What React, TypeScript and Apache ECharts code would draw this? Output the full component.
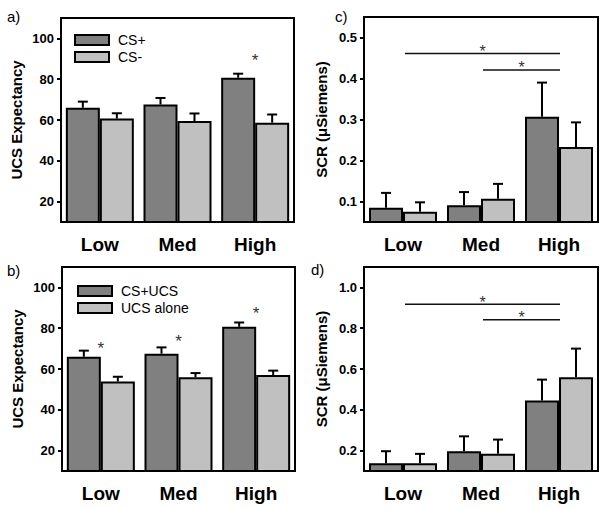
import React, { useEffect, useRef } from "react";
import * as echarts from "echarts";

// ---------- data ----------
const categories = ["Low", "Med", "High"];

// panel a
const aNames = ["CS+", "CS-"];
const aDark = [66, 67.6, 80.7];
const aDarkSem = [3, 3.2, 2];
const aLight = [60.7, 59.5, 58.7];
const aLightSem = [2.6, 3.7, 4];
const aStars = [[2, 91]];

// panel b
const bNames = ["CS+UCS", "UCS alone"];
const bDark = [66, 67.5, 80.7];
const bDarkSem = [3, 3.1, 2.1];
const bLight = [53.9, 56, 57];
const bLightSem = [2.3, 2, 2.2];
const bStars = [[0, 72], [1, 75.3], [2, 89.2]];

// panel c
const cDark = [0.085, 0.091, 0.307];
const cDarkSem = [0.036, 0.032, 0.083];
const cLight = [0.075, 0.107, 0.233];
const cLightSem = [0.023, 0.036, 0.06];
const cSig = [[0, 2, 0.461], [1, 2, 0.421]];

// panel d
const dDark = [0.138, 0.197, 0.445];
const dDarkSem = [0.059, 0.073, 0.103];
const dLight = [0.138, 0.184, 0.56];
const dLightSem = [0.046, 0.07, 0.14];
const dSig = [[0, 2, 0.918], [1, 2, 0.841]];

// axes
const expTicks = [20, 40, 60, 80, 100];
const scrCTicks = [0.1, 0.2, 0.3, 0.4, 0.5];
const scrDTicks = [0.2, 0.4, 0.6, 0.8, 1.0];

const FONT = "Liberation Sans, Arial, sans-serif";
const DARK = "#808080";
const LIGHT = "#c0c0c0";

export default function App() {
  const ref = useRef<HTMLDivElement>(null);
  useEffect(() => {
    document.body.style.margin = "0";
    const chart = echarts.init(ref.current!, null, { renderer: "svg" });

    const grids = [
      { left: 61, top: 18, width: 233, height: 204 }, // a
      { left: 364, top: 17, width: 234, height: 205 }, // c
      { left: 62, top: 267, width: 233, height: 204 }, // b
      { left: 364, top: 267, width: 234, height: 204 }, // d
    ].map((g) => ({ ...g, show: true, borderColor: "#000", borderWidth: 2, backgroundColor: "transparent", z: 10 }));

    const xAxes = grids.map((_, i) => ({
      type: "category",
      gridIndex: i,
      data: categories,
      axisLine: { show: false },
      axisTick: { show: false },
      axisLabel: { fontFamily: FONT, fontWeight: "bold", fontSize: 19, color: "#000", margin: 13 },
    }));

    const yAxis = (i: number, min: number, max: number, ticks: number[], name: string, gap: number, dec: number) => ({
      type: "value",
      gridIndex: i,
      min,
      max,
      name,
      nameLocation: "middle",
      nameGap: gap,
      nameTextStyle: { fontFamily: FONT, fontWeight: "bold", fontSize: 15, color: "#000" },
      splitLine: { show: false },
      axisLine: { show: false },
      axisTick: { show: true, customValues: ticks, length: 4, lineStyle: { color: "#000", width: 2 } },
      axisLabel: {
        customValues: ticks,
        fontFamily: FONT,
        fontWeight: "bold",
        fontSize: 13,
        color: "#000",
        margin: 7,
        formatter: (v: number) => (dec ? v.toFixed(dec) : String(v)),
      },
    });

    const yAxes = [
      yAxis(0, 10, 110, expTicks, "UCS Expectancy", 37, 0),
      yAxis(1, 0.05, 0.55, scrCTicks, "SCR (μSiemens)", 35, 1),
      yAxis(2, 10, 110, expTicks, "UCS Expectancy", 37, 0),
      yAxis(3, 0.1, 1.1, scrDTicks, "SCR (μSiemens)", 35, 1),
    ];

    const barSeries = (name: string, idx: number, data: number[], color: string) => ({
      type: "bar",
      name,
      xAxisIndex: idx,
      yAxisIndex: idx,
      data,
      barWidth: 34,
      barGap: "0%",
      itemStyle: { color, borderColor: "#000", borderWidth: 2 },
    });

    const errSeries = (idx: number, mean: number[], sem: number[], offset: number) => ({
      type: "custom",
      xAxisIndex: idx,
      yAxisIndex: idx,
      silent: true,
      z: 5,
      data: mean.map((m, k) => [k, m, m + sem[k]]),
      renderItem: (params: any, api: any) => {
        const p0 = api.coord([api.value(0), api.value(1)]);
        const p1 = api.coord([api.value(0), api.value(2)]);
        const x = p0[0] + offset;
        const st = { stroke: "#000", lineWidth: 2 };
        return {
          type: "group",
          children: [
            { type: "line", shape: { x1: x, y1: p0[1], x2: x, y2: p1[1] }, style: st },
            { type: "line", shape: { x1: x - 5, y1: p1[1], x2: x + 5, y2: p1[1] }, style: st },
          ],
        };
      },
    });

    const starSeries = (idx: number, stars: number[][]) => ({
      type: "custom",
      xAxisIndex: idx,
      yAxisIndex: idx,
      silent: true,
      z: 6,
      data: stars,
      renderItem: (params: any, api: any) => {
        const p = api.coord([api.value(0), api.value(1)]);
        return {
          type: "text",
          style: { text: "*", x: p[0], y: p[1] + 4, align: "center", verticalAlign: "middle", fontSize: 17, fontFamily: FONT, fill: "#333" },
        };
      },
    });

    const sigSeries = (idx: number, sig: number[][]) => ({
      type: "custom",
      xAxisIndex: idx,
      yAxisIndex: idx,
      silent: true,
      z: 6,
      data: sig,
      renderItem: (params: any, api: any) => {
        const p0 = api.coord([api.value(0), api.value(2)]);
        const p1 = api.coord([api.value(1), api.value(2)]);
        const x0 = p0[0] + 2;
        const x1 = p1[0] + 1;
        return {
          type: "group",
          children: [
            { type: "line", shape: { x1: x0, y1: p0[1], x2: x1, y2: p1[1] }, style: { stroke: "#111", lineWidth: 1.5 } },
            {
              type: "text",
              style: { text: "*", x: (x0 + x1) / 2, y: p0[1] - 2, align: "center", verticalAlign: "middle", fontSize: 16, fontFamily: FONT, fill: "#333" },
            },
          ],
        };
      },
    });

    const series = [
      barSeries(aNames[0], 0, aDark, DARK),
      barSeries(aNames[1], 0, aLight, LIGHT),
      errSeries(0, aDark, aDarkSem, -17),
      errSeries(0, aLight, aLightSem, 17),
      starSeries(0, aStars),

      barSeries("c-dark", 1, cDark, DARK),
      barSeries("c-light", 1, cLight, LIGHT),
      errSeries(1, cDark, cDarkSem, -17),
      errSeries(1, cLight, cLightSem, 17),
      sigSeries(1, cSig),

      barSeries(bNames[0], 2, bDark, DARK),
      barSeries(bNames[1], 2, bLight, LIGHT),
      errSeries(2, bDark, bDarkSem, -17),
      errSeries(2, bLight, bLightSem, 17),
      starSeries(2, bStars),

      barSeries("d-dark", 3, dDark, DARK),
      barSeries("d-light", 3, dLight, LIGHT),
      errSeries(3, dDark, dDarkSem, -17),
      errSeries(3, dLight, dLightSem, 17),
      sigSeries(3, dSig),
    ];

    const legendBase = {
      orient: "vertical",
      icon: "rect",
      itemWidth: 34,
      itemHeight: 10,
      itemGap: 3,
      padding: 0,
      selectedMode: false,
      itemStyle: { borderColor: "#000", borderWidth: 2 },
      textStyle: { fontFamily: FONT, fontSize: 14, color: "#000", padding: [0, 0, 0, 4] },
    };

    const panelLabel = (text: string, left: number, top: number) => ({
      type: "text",
      left,
      top,
      style: { text, fontFamily: FONT, fontSize: 15, fill: "#000" },
    });

    chart.setOption({
      animation: false,
      backgroundColor: "#fff",
      grid: grids,
      xAxis: xAxes,
      yAxis: yAxes,
      legend: [
        { ...legendBase, data: aNames, left: 74, top: 33 },
        { ...legendBase, data: bNames, left: 77, top: 284 },
      ],
      series,
      graphic: [
        panelLabel("a)", 7, 9),
        panelLabel("c)", 335, 9),
        panelLabel("b)", 7, 263),
        panelLabel("d)", 311, 262),
      ],
    });
    return () => chart.dispose();
  }, []);
  return <div ref={ref} style={{ width: 606, height: 509 }} />;
}
